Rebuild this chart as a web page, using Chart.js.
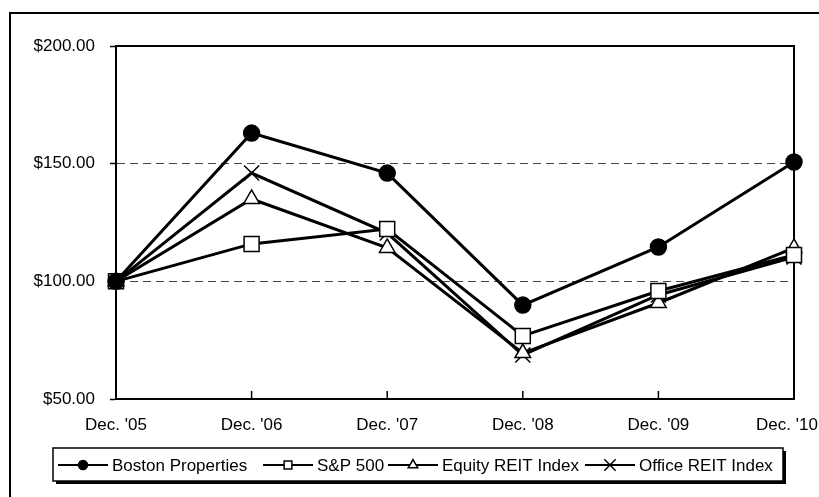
<!DOCTYPE html>
<html>
<head>
<meta charset="utf-8">
<script src="https://cdn.jsdelivr.net/npm/chart.js@4/dist/chart.umd.min.js"></script>
<style>
  html, body { margin: 0; padding: 0; background: #fff; }
  #wrap { position: relative; width: 819px; height: 497px; }
  #frame { position: absolute; left: 9px; top: 12px; width: 830px; height: 500px;
           border-left: 2px solid #000; border-top: 2px solid #000; }
  canvas { position: absolute; left: 0; top: 0; }
</style>
</head>
<body>
<div id="wrap">
  <div id="frame"></div>
  <canvas id="chart" width="819" height="497"></canvas>
</div>
<script>
// Chart data
const categories = ["Dec. '05", "Dec. '06", "Dec. '07", "Dec. '08", "Dec. '09", "Dec. '10"];
const bostonProperties = [100, 163, 146, 89.9, 114.6, 150.7];
const sp500 = [100, 115.9, 122.2, 76.8, 95.9, 111.2];
const equityReit = [100, 135, 114.2, 69.5, 90.8, 114.2];
const officeReit = [100, 146, 120.5, 68.7, 94.2, 110.3];
const yTicks = [50, 100, 150, 200];

const FONT = "'Liberation Sans', Arial, sans-serif";

// Plot frame (top/right) + inward x tick marks
const framePlugin = {
    id: 'frame',
    beforeDatasetsDraw(chart) {
        const { ctx, chartArea: a, scales } = chart;
        ctx.save();
        ctx.strokeStyle = '#000';
        ctx.lineWidth = 2;
        ctx.beginPath();
        ctx.moveTo(a.left, a.top);
        ctx.lineTo(a.right, a.top);
        ctx.lineTo(a.right, a.bottom);
        ctx.stroke();
        ctx.lineWidth = 1.5;
        categories.forEach((c, i) => {
            const x = scales.x.getPixelForValue(i);
            ctx.beginPath();
            ctx.moveTo(x, a.bottom);
            ctx.lineTo(x, a.bottom - 8);
            ctx.stroke();
        });
        ctx.restore();
    }
};

// Legend box drawn below the axis
const legendPlugin = {
    id: 'boxLegend',
    afterDraw(chart) {
        const { ctx } = chart;
        const box = { l: 53, t: 448, r: 783, b: 481 };
        ctx.save();
        // shadow
        ctx.fillStyle = '#000';
        ctx.fillRect(box.l + 3, box.b, box.r - box.l, 3);
        ctx.fillRect(box.r, box.t + 3, 3, box.b - box.t);
        ctx.strokeStyle = '#000';
        ctx.lineWidth = 1.5;
        ctx.strokeRect(box.l, box.t, box.r - box.l, box.b - box.t);

        const cy = 465;
        const starts = [58, 263, 388, 585];
        chart.data.datasets.forEach((ds, i) => {
            const x0 = starts[i];
            ctx.strokeStyle = '#000';
            ctx.lineWidth = 2;
            ctx.beginPath();
            ctx.moveTo(x0, cy);
            ctx.lineTo(x0 + 50, cy);
            ctx.stroke();
            ctx.fillStyle = ds.pointBackgroundColor;
            ctx.lineWidth = 1.5;
            Chart.helpers.drawPoint(ctx, {
                pointStyle: ds.pointStyle,
                radius: ds.legendRadius,
                borderWidth: 1.5,
                rotation: 0
            }, x0 + 25, cy);
            ctx.fillStyle = '#000';
            ctx.font = '17px ' + FONT;
            ctx.textBaseline = 'middle';
            ctx.textAlign = 'left';
            ctx.fillText(ds.label, x0 + 54, cy + 1);
        });
        ctx.restore();
    }
};

const common = {
    borderColor: '#000',
    borderWidth: 3,
    tension: 0,
    pointBorderColor: '#000',
    pointBorderWidth: 1.5,
    clip: false
};

const ctx = document.getElementById('chart').getContext('2d');
new Chart(ctx, {
    type: 'line',
    data: {
        labels: categories,
        datasets: [
            { ...common, label: 'Boston Properties', data: bostonProperties,
              pointStyle: 'circle', pointRadius: 8, pointBackgroundColor: '#000', legendRadius: 4.5 },
            { ...common, label: 'S&P 500', data: sp500,
              pointStyle: 'rect', pointRadius: 10.6, pointBackgroundColor: '#fff', legendRadius: 5.5 },
            { ...common, label: 'Equity REIT Index', data: equityReit,
              pointStyle: 'triangle', pointRadius: 9, pointBackgroundColor: '#fff', legendRadius: 5.5 },
            { ...common, label: 'Office REIT Index', data: officeReit,
              pointStyle: 'crossRot', pointRadius: 10.6, pointBackgroundColor: '#fff', legendRadius: 8 }
        ]
    },
    options: {
        responsive: false,
        animation: false,
        layout: { padding: { left: 0, right: 25, top: 46, bottom: 0 } },
        plugins: { legend: { display: false }, tooltip: { enabled: false } },
        scales: {
            x: {
                offset: false,
                grid: { drawOnChartArea: false, drawTicks: false },
                border: { color: '#000', width: 2 },
                ticks: {
                    color: '#000', font: { family: FONT, size: 17 }, padding: 16, maxRotation: 0, autoSkip: false,
                    // last label sits a little left of its tick so it stays on the page
                    callback: (v, i) => i === categories.length - 1 ? categories[i] + '   ' : categories[i]
                },
                afterFit(scale) { scale.paddingLeft = 0; scale.paddingRight = 0; scale.height = 98; }
            },
            y: {
                min: 50,
                max: 200,
                afterBuildTicks(scale) { scale.ticks = yTicks.map(v => ({ value: v })); },
                grid: {
                    color: c => (c.tick && (c.tick.value === 100 || c.tick.value === 150)) ? '#444' : 'rgba(0,0,0,0)',
                    lineWidth: 1,
                    tickColor: '#000',
                    tickLength: 6,
                    tickWidth: 1.5
                },
                border: { color: '#000', width: 2, dash: [8, 5] },
                ticks: {
                    color: '#000',
                    font: { family: FONT, size: 17 },
                    padding: 15,
                    callback: v => '$' + Number(v).toFixed(2)
                },
                afterFit(scale) { scale.width = 116; }
            }
        }
    },
    plugins: [framePlugin, legendPlugin]
});
</script>
</body>
</html>
